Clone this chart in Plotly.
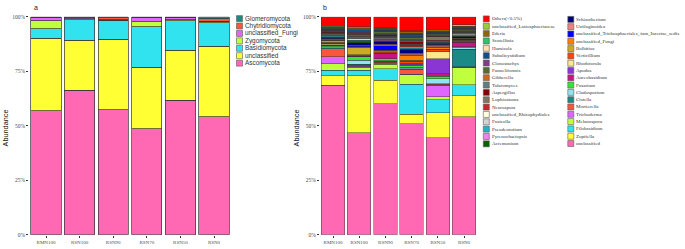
import plotly.graph_objects as go

# ---------------- data ----------------
samples = ["RMN100", "RSN100", "RSN90", "RSN70", "RSN50", "RSN0"]
y_tick_vals = [0, 25, 50, 75, 100]
y_tick_text = ["0%", "25%", "50%", "75%", "100%"]

# Panel a: phyla, listed from the bottom of the stack upwards
phyla = ["Ascomycota", "unclassified", "Basidiomycota", "Zygomycota",
         "unclassified_Fungi", "Chytridiomycota", "Glomeromycota"]
a_RMN100 = [56.8, 33.4, 4.3, 3.6, 1.4, 0.2, 0.3]
a_RSN100 = [66.2, 22.9, 9.4, 0.6, 0.3, 0.2, 0.4]
a_RSN90 = [57.3, 32.4, 8.4, 0.3, 0.2, 1.0, 0.4]
a_RSN70 = [48.5, 28.4, 18.4, 2.3, 1.8, 0.3, 0.3]
a_RSN50 = [61.7, 22.9, 13.5, 0.5, 0.8, 0.3, 0.3]
a_RSN0 = [54.1, 32.4, 10.8, 0.4, 0.3, 1.0, 1.0]

# Panel b: genera, listed from the bottom of the stack upwards
genera = ["unclassified", "Zopfiella", "Filobasidium", "Melanospora", "Trichoderma",
          "Mortierella", "Cistella", "Cladosporium", "Fusarium", "Aureobasidium",
          "Apodus", "Rhodotorula", "Verticillium", "Bolbitius", "unclassified_Fungi",
          "unclassified_Trichosphaeriales_fam_Incertae_sedis", "Ustilaginoidea",
          "Schizothecium", "Acremonium", "Pyrenochaetopsis", "Pseudeurotium", "Fusicolla",
          "unclassified_Rhizophydiales", "Neurospora", "Lophiostoma", "Aspergillus",
          "Talaromyces", "Gibberella", "Funneliformis", "Clonostachys", "Subulicystidium",
          "Humicola", "Scutellinia", "Ederia", "unclassified_Lasiosphaeriaceae",
          "Others(<0.5%)"]
b_RMN100 = [68.6, 4.3, 2.6, 2.8, 3.4, 3.5, 0.5, 0.6, 0.4, 0.3, 0.2, 0.3, 0.4, 0.3, 0.9,
            0.2, 0.3, 0.6, 0.3, 0.3, 0.6, 0.3, 0.2, 0.3, 0.3, 0.3, 0.2, 0.3, 0.3, 0.2,
            0.5, 0.2, 0.3, 0.3, 0.4, 4.5]
b_RSN100 = [46.7, 26.1, 2.7, 1.4, 0.3, 0.6, 0.4, 1.8, 1.6, 0.3, 0.2, 0.2, 0.3, 3.4, 0.3,
            0.3, 0.4, 1.0, 0.5, 0.3, 0.4, 0.6, 0.3, 0.3, 0.6, 0.3, 0.5, 0.2, 0.5, 0.3,
            1.2, 0.2, 0.3, 0.4, 0.5, 4.6]
b_RSN90 = [60.1, 10.7, 5.4, 1.9, 0.3, 0.8, 0.3, 0.4, 0.8, 2.2, 0.3, 0.2, 0.6, 0.3, 0.4,
           1.9, 0.8, 1.0, 0.4, 0.5, 0.3, 0.6, 0.2, 0.4, 0.3, 0.6, 0.3, 0.3, 0.8, 0.2,
           0.4, 0.2, 0.3, 0.5, 0.3, 5.0]
b_RSN70 = [50.8, 4.5, 13.8, 4.2, 0.3, 2.2, 0.4, 0.5, 1.0, 0.3, 0.3, 0.3, 1.0, 0.4, 2.2,
           0.4, 0.6, 1.6, 0.3, 0.3, 0.4, 0.3, 0.2, 0.6, 0.4, 1.2, 0.6, 0.6, 0.8, 0.3,
           1.1, 0.2, 0.3, 0.8, 0.4, 6.4]
b_RSN50 = [44.4, 11.6, 6.0, 1.2, 5.4, 0.4, 0.3, 2.2, 1.2, 1.1, 6.9, 3.3, 0.8, 0.3, 0.9,
           0.3, 0.6, 0.5, 0.3, 0.3, 0.3, 0.3, 0.2, 0.5, 1.5, 0.3, 0.3, 0.3, 0.6, 0.2,
           0.3, 0.2, 0.3, 0.6, 0.3, 5.8]
b_RSN0 = [54.1, 9.7, 4.9, 7.8, 0.2, 0.3, 8.0, 0.8, 0.3, 2.2, 0.2, 0.2, 0.3, 0.2, 0.3,
          0.3, 0.3, 0.6, 0.4, 0.2, 0.3, 0.5, 0.2, 0.3, 0.2, 0.3, 0.2, 0.3, 0.6, 0.2,
          0.3, 0.2, 0.3, 0.5, 0.6, 3.7]

# ---------------- styles ----------------
phylum_colors = ["#FF69B4", "#FFFF33", "#30E3EE", "#C0FF3E", "#E066FF", "#F9553F", "#1A8A87"]
genus_colors = ["#FF69B4", "#FFFF33", "#30E3EE", "#C0FF3E", "#E066FF", "#F9553F", "#1A8A87",
                "#8EE5EE", "#33E633", "#C71585", "#8B35D4", "#FFE68F", "#FF4500", "#CDAA25",
                "#FF7F00", "#0000FF", "#F08080", "#000080", "#006400", "#EE82EE", "#1CB5C0",
                "#D3D3D3", "#FFFFE0", "#CD2626", "#7F7363", "#8B0000", "#5E7F7F", "#CD661D",
                "#556B2F", "#7D3C8C", "#104E8B", "#FFDEAD", "#2AC46A", "#8B6508", "#9ACD32",
                "#FF0000"]

W, H = 685, 249
SERIF = "Liberation Serif, Times New Roman, serif"
SANS = "Liberation Sans, Arial, sans-serif"
TICK_GREY = "#4D4D4D"

fig = go.Figure()

a_values = [a_RMN100, a_RSN100, a_RSN90, a_RSN70, a_RSN50, a_RSN0]
for i, name in enumerate(phyla):
    fig.add_trace(go.Bar(
        x=samples, y=[row[i] for row in a_values], name=name, width=0.9,
        marker=dict(color=phylum_colors[i], line=dict(color="#333333", width=0.7)),
        xaxis="x", yaxis="y", showlegend=False))

b_values = [b_RMN100, b_RSN100, b_RSN90, b_RSN70, b_RSN50, b_RSN0]
for i, name in enumerate(genera):
    fig.add_trace(go.Bar(
        x=samples, y=[row[i] for row in b_values], name=name, width=0.9,
        marker=dict(color=genus_colors[i], line=dict(color="#333333", width=0.45)),
        xaxis="x2", yaxis="y2", showlegend=False))

annotations = []


def key_column(names, colors, x_key, x_text, y0, step, font):
    ys = [y0 + step * k for k in range(len(names))]
    fig.add_trace(go.Scatter(
        x=[x_key] * len(names), y=ys, mode="markers", hoverinfo="skip",
        marker=dict(symbol="square", size=6, color=colors,
                    line=dict(color="#5A5A5A", width=0.6)),
        xaxis="x3", yaxis="y3", showlegend=False))
    for n, yy in zip(names, ys):
        annotations.append(dict(x=x_text, y=yy, xref="x3", yref="y3", text=n,
                                showarrow=False, xanchor="left", yanchor="middle",
                                font=font))


# legend of panel a (top of stack first)
key_column(phyla[::-1], phylum_colors[::-1], 239.5, 243.0, 16.0, 7.6,
           dict(family=SANS, size=6.4, color="#333333"))
# legend of panel b, two columns
key_column(genera[18:][::-1], genus_colors[18:][::-1], 486.3, 489.8, 16.3, 7.53,
           dict(family=SERIF, size=5.0, color="#333333"))
key_column(genera[:18][::-1], genus_colors[:18][::-1], 570.8, 574.3, 16.8, 7.48,
           dict(family=SERIF, size=5.0, color="#333333"))

# panel letters and y titles
for letter, xp in (("a", 31.5), ("b", 321.0)):
    annotations.append(dict(x=xp, y=5.0, xref="x3", yref="y3", text=letter, showarrow=False,
                            xanchor="left", yanchor="middle",
                            font=dict(family=SANS, size=7, color="#222222")))
for xp in (5.5, 296.5):
    annotations.append(dict(x=xp, y=128.0, xref="x3", yref="y3", text="Abundance",
                            showarrow=False, textangle=-90, xanchor="center",
                            yanchor="middle", font=dict(family=SANS, size=7.3, color="#111111")))

y_dom = [(H - 237.5) / H, (H - 14.0) / H]
common_x = dict(type="category", range=[-0.5, 5.5], showgrid=False, zeroline=False,
                showline=False, ticks="outside", ticklen=2, tickwidth=0.6,
                tickcolor="#333333", tickfont=dict(family=SERIF, size=5.0, color=TICK_GREY))
common_y = dict(range=[0, 100], tickvals=y_tick_vals, ticktext=y_tick_text, showgrid=False,
                zeroline=False, showline=False, ticks="outside", ticklen=2, tickwidth=0.6,
                tickcolor="#333333", tickfont=dict(family=SERIF, size=5.5, color=TICK_GREY))

fig.update_layout(
    width=W, height=H, margin=dict(l=0, r=0, t=0, b=0),
    paper_bgcolor="white", plot_bgcolor="rgba(0,0,0,0)", barmode="stack", bargap=0.1,
    xaxis=dict(domain=[29.2 / W, 230.8 / W], anchor="y", **common_x),
    yaxis=dict(domain=y_dom, anchor="x", **common_y),
    xaxis2=dict(domain=[319.9 / W, 477.1 / W], anchor="y2", **common_x),
    yaxis2=dict(domain=y_dom, anchor="x2", **common_y),
    xaxis3=dict(domain=[0, 1], range=[0, W], visible=False, fixedrange=True, anchor="y3"),
    yaxis3=dict(domain=[0, 1], range=[H, 0], visible=False, fixedrange=True, anchor="x3"),
    annotations=annotations,
    showlegend=False,
)

fig.write_html("out.html", config={"displayModeBar": False},
               post_script="document.body.style.margin='0';")
